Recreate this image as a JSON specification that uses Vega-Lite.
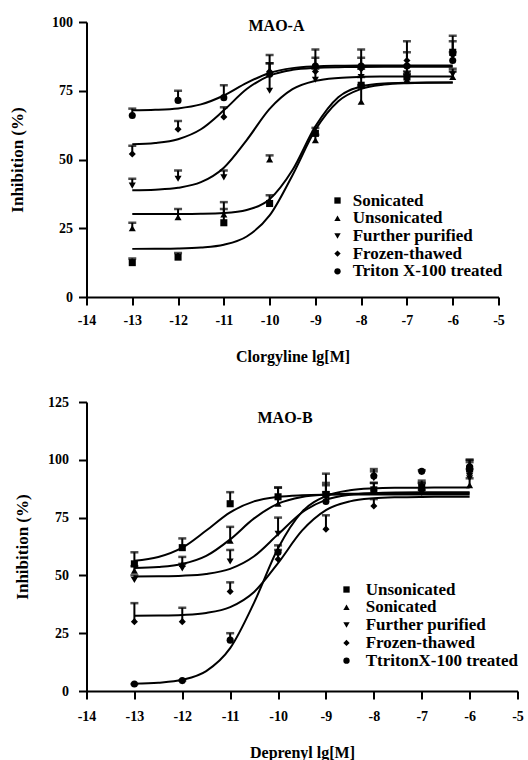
{
  "$schema": "https://vega.github.io/schema/vega-lite/v6.json",
  "background": "white",
  "padding": {"left": 8.5, "top": 15, "right": 5, "bottom": 5},
  "bounds": "flush",
  "spacing": 105,
  "config": {
    "view": {"stroke": null},
    "font": "Liberation Serif",
    "title": {"font": "Liberation Serif", "fontSize": 16, "fontWeight": "bold", "color": "black", "anchor": "start", "frame": "group"},
    "axis": {"domainColor": "black", "domainWidth": 2, "tickColor": "black", "tickWidth": 2, "tickSize": 8, "labelFont": "Liberation Serif", "labelFontWeight": "bold", "labelFontSize": 14, "labelColor": "black", "titleFont": "Liberation Serif", "titleFontWeight": "bold", "titleFontSize": 16, "titleColor": "black", "grid": false, "labelFlush": false}
  },
  "datasets": {
    "ptsA": [
      {"s": "Sonicated", "x": -13, "y": 12.5, "hi": 14}, {"s": "Sonicated", "x": -12, "y": 14.5, "hi": 16}, {"s": "Sonicated", "x": -11, "y": 27, "hi": 32}, {"s": "Sonicated", "x": -10, "y": 34, "hi": 37}, {"s": "Sonicated", "x": -9, "y": 59.5, "hi": 61.5}, {"s": "Sonicated", "x": -8, "y": 77, "hi": 80}, {"s": "Sonicated", "x": -7, "y": 80, "hi": 82}, {"s": "Sonicated", "x": -6, "y": 89, "hi": 95},
      {"s": "Unsonicated", "x": -13, "y": 25, "hi": 27}, {"s": "Unsonicated", "x": -12, "y": 29, "hi": 32}, {"s": "Unsonicated", "x": -11, "y": 30, "hi": 34.5}, {"s": "Unsonicated", "x": -10, "y": 50, "hi": 51.5}, {"s": "Unsonicated", "x": -9, "y": 57, "hi": 59}, {"s": "Unsonicated", "x": -8, "y": 71, "hi": 77}, {"s": "Unsonicated", "x": -7, "y": 79, "hi": 81}, {"s": "Unsonicated", "x": -6, "y": 80, "hi": 82},
      {"s": "Further purified", "x": -13, "y": 40.5, "hi": 43}, {"s": "Further purified", "x": -12, "y": 43, "hi": 46}, {"s": "Further purified", "x": -11, "y": 43.5, "hi": 46}, {"s": "Further purified", "x": -10, "y": 75, "hi": 85}, {"s": "Further purified", "x": -9, "y": 79, "hi": 83}, {"s": "Further purified", "x": -8, "y": 80, "hi": 83}, {"s": "Further purified", "x": -7, "y": 81, "hi": 84}, {"s": "Further purified", "x": -6, "y": 81, "hi": 83},
      {"s": "Frozen-thawed", "x": -13, "y": 52, "hi": 55}, {"s": "Frozen-thawed", "x": -12, "y": 61, "hi": 64}, {"s": "Frozen-thawed", "x": -11, "y": 65.5, "hi": 69}, {"s": "Frozen-thawed", "x": -10, "y": 82, "hi": 88}, {"s": "Frozen-thawed", "x": -9, "y": 82, "hi": 87}, {"s": "Frozen-thawed", "x": -8, "y": 83, "hi": 87}, {"s": "Frozen-thawed", "x": -7, "y": 86, "hi": 89}, {"s": "Frozen-thawed", "x": -6, "y": 88, "hi": 93},
      {"s": "Triton X-100 treated", "x": -13, "y": 66, "hi": 68.5}, {"s": "Triton X-100 treated", "x": -12, "y": 71.5, "hi": 75}, {"s": "Triton X-100 treated", "x": -11, "y": 72.5, "hi": 77}, {"s": "Triton X-100 treated", "x": -10, "y": 81, "hi": 85}, {"s": "Triton X-100 treated", "x": -9, "y": 84, "hi": 90}, {"s": "Triton X-100 treated", "x": -8, "y": 84, "hi": 90}, {"s": "Triton X-100 treated", "x": -7, "y": 84, "hi": 93}, {"s": "Triton X-100 treated", "x": -6, "y": 86, "hi": 89}
    ],
    "curA": [
      {"c": "S", "x": -13, "y": 17.5}, {"c": "S", "x": -12.5, "y": 17.55}, {"c": "S", "x": -12, "y": 17.65}, {"c": "S", "x": -11.5, "y": 18.0}, {"c": "S", "x": -11, "y": 19.0}, {"c": "S", "x": -10.5, "y": 22.0}, {"c": "S", "x": -10, "y": 29.65}, {"c": "S", "x": -9.5, "y": 44.3}, {"c": "S", "x": -9, "y": 60.8}, {"c": "S", "x": -8.5, "y": 71.2}, {"c": "S", "x": -8, "y": 75.7}, {"c": "S", "x": -7.5, "y": 77.25}, {"c": "S", "x": -7, "y": 77.76}, {"c": "S", "x": -6.5, "y": 77.92}, {"c": "S", "x": -6, "y": 77.97},
      {"c": "U", "x": -13, "y": 30.2}, {"c": "U", "x": -12.5, "y": 30.2}, {"c": "U", "x": -12, "y": 30.22}, {"c": "U", "x": -11.5, "y": 30.3}, {"c": "U", "x": -11, "y": 30.58}, {"c": "U", "x": -10.5, "y": 31.67}, {"c": "U", "x": -10, "y": 35.55}, {"c": "U", "x": -9.5, "y": 46.15}, {"c": "U", "x": -9, "y": 62.05}, {"c": "U", "x": -8.5, "y": 72.65}, {"c": "U", "x": -8, "y": 76.53}, {"c": "U", "x": -7.5, "y": 77.62}, {"c": "U", "x": -7, "y": 77.9}, {"c": "U", "x": -6.5, "y": 77.98}, {"c": "U", "x": -6, "y": 78.0},
      {"c": "F", "x": -13, "y": 38.8}, {"c": "F", "x": -12.5, "y": 39.03}, {"c": "F", "x": -12, "y": 39.72}, {"c": "F", "x": -11.5, "y": 41.75}, {"c": "F", "x": -11, "y": 47.03}, {"c": "F", "x": -10.5, "y": 57.07}, {"c": "F", "x": -10, "y": 68.38}, {"c": "F", "x": -9.5, "y": 75.56}, {"c": "F", "x": -9, "y": 78.61}, {"c": "F", "x": -8.5, "y": 79.68}, {"c": "F", "x": -8, "y": 80.04}, {"c": "F", "x": -7.5, "y": 80.15}, {"c": "F", "x": -7, "y": 80.19}, {"c": "F", "x": -6.5, "y": 80.2}, {"c": "F", "x": -6, "y": 80.2},
      {"c": "Z", "x": -13, "y": 55.52}, {"c": "Z", "x": -12.5, "y": 56.0}, {"c": "Z", "x": -12, "y": 57.39}, {"c": "Z", "x": -11.5, "y": 61.0}, {"c": "Z", "x": -11, "y": 67.87}, {"c": "Z", "x": -10.5, "y": 75.61}, {"c": "Z", "x": -10, "y": 80.52}, {"c": "Z", "x": -9.5, "y": 82.61}, {"c": "Z", "x": -9, "y": 83.35}, {"c": "Z", "x": -8.5, "y": 83.59}, {"c": "Z", "x": -8, "y": 83.66}, {"c": "Z", "x": -7.5, "y": 83.69}, {"c": "Z", "x": -7, "y": 83.7}, {"c": "Z", "x": -6.5, "y": 83.7}, {"c": "Z", "x": -6, "y": 83.7},
      {"c": "T", "x": -13, "y": 67.88}, {"c": "T", "x": -12.5, "y": 68.06}, {"c": "T", "x": -12, "y": 68.58}, {"c": "T", "x": -11.5, "y": 70.04}, {"c": "T", "x": -11, "y": 73.28}, {"c": "T", "x": -10.5, "y": 77.86}, {"c": "T", "x": -10, "y": 81.47}, {"c": "T", "x": -9.5, "y": 83.23}, {"c": "T", "x": -9, "y": 83.88}, {"c": "T", "x": -8.5, "y": 84.1}, {"c": "T", "x": -8, "y": 84.17}, {"c": "T", "x": -7.5, "y": 84.2}, {"c": "T", "x": -7, "y": 84.2}, {"c": "T", "x": -6.5, "y": 84.2}, {"c": "T", "x": -6, "y": 84.2}
    ],
    "ptsB": [
      {"s": "Unsonicated", "x": -13, "y": 55, "hi": 60}, {"s": "Unsonicated", "x": -12, "y": 62, "hi": 66}, {"s": "Unsonicated", "x": -11, "y": 81, "hi": 86}, {"s": "Unsonicated", "x": -10, "y": 84, "hi": 88}, {"s": "Unsonicated", "x": -9, "y": 85, "hi": 89}, {"s": "Unsonicated", "x": -8, "y": 87, "hi": 90}, {"s": "Unsonicated", "x": -7, "y": 88, "hi": 90}, {"s": "Unsonicated", "x": -6, "y": 96, "hi": 100},
      {"s": "Sonicated", "x": -13, "y": 52, "hi": 54}, {"s": "Sonicated", "x": -12, "y": 55, "hi": 58}, {"s": "Sonicated", "x": -11, "y": 65, "hi": 71}, {"s": "Sonicated", "x": -10, "y": 81, "hi": 88}, {"s": "Sonicated", "x": -9, "y": 86, "hi": 90}, {"s": "Sonicated", "x": -8, "y": 88, "hi": 90}, {"s": "Sonicated", "x": -7, "y": 89, "hi": 91}, {"s": "Sonicated", "x": -6, "y": 89, "hi": 92},
      {"s": "Further purified", "x": -13, "y": 48, "hi": 50}, {"s": "Further purified", "x": -12, "y": 53, "hi": 55}, {"s": "Further purified", "x": -11, "y": 56, "hi": 61}, {"s": "Further purified", "x": -10, "y": 68, "hi": 75}, {"s": "Further purified", "x": -9, "y": 84, "hi": 94}, {"s": "Further purified", "x": -8, "y": 92, "hi": 96}, {"s": "Further purified", "x": -7, "y": 88, "hi": 90}, {"s": "Further purified", "x": -6, "y": 92, "hi": 100},
      {"s": "Frozen-thawed", "x": -13, "y": 30, "hi": 38}, {"s": "Frozen-thawed", "x": -12, "y": 30, "hi": 36}, {"s": "Frozen-thawed", "x": -11, "y": 43, "hi": 47}, {"s": "Frozen-thawed", "x": -10, "y": 57, "hi": 61}, {"s": "Frozen-thawed", "x": -9, "y": 70, "hi": 76}, {"s": "Frozen-thawed", "x": -8, "y": 80, "hi": 83}, {"s": "Frozen-thawed", "x": -7, "y": 86, "hi": 87}, {"s": "Frozen-thawed", "x": -6, "y": 94, "hi": 96},
      {"s": "TtritonX-100 treated", "x": -13, "y": 3, "hi": 3}, {"s": "TtritonX-100 treated", "x": -12, "y": 4.5, "hi": 4.5}, {"s": "TtritonX-100 treated", "x": -11, "y": 22, "hi": 25}, {"s": "TtritonX-100 treated", "x": -10, "y": 60, "hi": 63}, {"s": "TtritonX-100 treated", "x": -9, "y": 82, "hi": 86}, {"s": "TtritonX-100 treated", "x": -8, "y": 93, "hi": 95}, {"s": "TtritonX-100 treated", "x": -7, "y": 95, "hi": 95.5}, {"s": "TtritonX-100 treated", "x": -6, "y": 97, "hi": 99}
    ],
    "curB": [
      {"c": "E", "x": -13, "y": 56.31}, {"c": "E", "x": -12.5, "y": 57.92}, {"c": "E", "x": -12, "y": 61.98}, {"c": "E", "x": -11.5, "y": 69.4}, {"c": "E", "x": -11, "y": 77.27}, {"c": "E", "x": -10.5, "y": 82.03}, {"c": "E", "x": -10, "y": 83.99}, {"c": "E", "x": -9.5, "y": 84.67}, {"c": "E", "x": -9, "y": 84.9}, {"c": "E", "x": -8.5, "y": 84.97}, {"c": "E", "x": -8, "y": 85}, {"c": "E", "x": -7.5, "y": 85}, {"c": "E", "x": -7, "y": 85}, {"c": "E", "x": -6.5, "y": 85}, {"c": "E", "x": -6, "y": 85},
      {"c": "D", "x": -13, "y": 53.2}, {"c": "D", "x": -12.5, "y": 53.64}, {"c": "D", "x": -12, "y": 54.93}, {"c": "D", "x": -11.5, "y": 58.41}, {"c": "D", "x": -11, "y": 65.57}, {"c": "D", "x": -10.5, "y": 74.65}, {"c": "D", "x": -10, "y": 81.06}, {"c": "D", "x": -9.5, "y": 83.95}, {"c": "D", "x": -9, "y": 84.99}, {"c": "D", "x": -8.5, "y": 85.34}, {"c": "D", "x": -8, "y": 85.45}, {"c": "D", "x": -7.5, "y": 85.48}, {"c": "D", "x": -7, "y": 85.5}, {"c": "D", "x": -6.5, "y": 85.5}, {"c": "D", "x": -6, "y": 85.5},
      {"c": "C", "x": -13, "y": 49.54}, {"c": "C", "x": -12.5, "y": 49.62}, {"c": "C", "x": -12, "y": 49.86}, {"c": "C", "x": -11.5, "y": 50.62}, {"c": "C", "x": -11, "y": 52.82}, {"c": "C", "x": -10.5, "y": 58.27}, {"c": "C", "x": -10, "y": 67.75}, {"c": "C", "x": -9.5, "y": 77.23}, {"c": "C", "x": -9, "y": 82.68}, {"c": "C", "x": -8.5, "y": 84.88}, {"c": "C", "x": -8, "y": 85.64}, {"c": "C", "x": -7.5, "y": 85.89}, {"c": "C", "x": -7, "y": 85.96}, {"c": "C", "x": -6.5, "y": 85.99}, {"c": "C", "x": -6, "y": 86},
      {"c": "B", "x": -13, "y": 32.54}, {"c": "B", "x": -12.5, "y": 32.63}, {"c": "B", "x": -12, "y": 32.91}, {"c": "B", "x": -11.5, "y": 33.76}, {"c": "B", "x": -11, "y": 36.29}, {"c": "B", "x": -10.5, "y": 42.84}, {"c": "B", "x": -10, "y": 55.3}, {"c": "B", "x": -9.5, "y": 69.34}, {"c": "B", "x": -9, "y": 78.24}, {"c": "B", "x": -8.5, "y": 82.03}, {"c": "B", "x": -8, "y": 83.36}, {"c": "B", "x": -7.5, "y": 83.8}, {"c": "B", "x": -7, "y": 83.94}, {"c": "B", "x": -6.5, "y": 83.98}, {"c": "B", "x": -6, "y": 84},
      {"c": "A", "x": -13, "y": 3.19}, {"c": "A", "x": -12.5, "y": 3.6}, {"c": "A", "x": -12, "y": 4.86}, {"c": "A", "x": -11.5, "y": 8.63}, {"c": "A", "x": -11, "y": 18.54}, {"c": "A", "x": -10.5, "y": 38.23}, {"c": "A", "x": -10, "y": 61.74}, {"c": "A", "x": -9.5, "y": 77.5}, {"c": "A", "x": -9, "y": 84.36}, {"c": "A", "x": -8.5, "y": 86.82}, {"c": "A", "x": -8, "y": 87.62}, {"c": "A", "x": -7.5, "y": 87.88}, {"c": "A", "x": -7, "y": 87.96}, {"c": "A", "x": -6.5, "y": 87.99}, {"c": "A", "x": -6, "y": 88}
    ]
  },
  "vconcat": [
    {
      "width": 412,
      "height": 275,
      "title": {"text": "MAO-A", "dx": 162, "offset": -10, "dy": 9},
      "encoding": {
        "x": {"field": "x", "type": "quantitative", "scale": {"domain": [-14, -5], "nice": false}, "axis": {"title": "Clorgyline lg[M]", "values": [-14, -13, -12, -11, -10, -9, -8, -7, -6, -5], "labelExpr": "'' + datum.value", "labelPadding": 8, "titlePadding": 21}},
        "y": {"field": "y", "type": "quantitative", "scale": {"domain": [0, 100], "nice": false}, "axis": {"title": "Inhibition (%)", "values": [0, 25, 50, 75, 100], "labelPadding": 6, "titlePadding": 25, "titleFontSize": 17}}
      },
      "layer": [
        {"data": {"name": "curA"}, "mark": {"type": "line", "color": "black", "strokeWidth": 2, "interpolate": "monotone"}, "encoding": {"detail": {"field": "c"}, "order": {"field": "x", "type": "quantitative"}}},
        {"data": {"name": "ptsA"}, "mark": {"type": "rule", "color": "black", "strokeWidth": 2}, "encoding": {"y2": {"field": "hi"}}},
        {"data": {"name": "ptsA"}, "mark": {"type": "tick", "orient": "horizontal", "color": "black", "thickness": 2.5, "size": 8}, "encoding": {"y": {"field": "hi", "type": "quantitative"}}},
        {"data": {"name": "ptsA"}, "mark": {"type": "point", "filled": true, "color": "black", "size": 50, "opacity": 1}, "encoding": {"shape": {"field": "s", "type": "nominal", "scale": {"domain": ["Sonicated", "Unsonicated", "Further purified", "Frozen-thawed", "Triton X-100 treated"], "range": ["square", "triangle-up", "triangle-down", "diamond", "circle"]}, "legend": {"title": null, "orient": "none", "legendX": 242.5, "legendY": 170, "padding": 0, "labelFont": "Liberation Serif", "labelFontWeight": "bold", "labelFontSize": 17, "labelColor": "black", "symbolFillColor": "black", "symbolStrokeColor": "black", "symbolStrokeWidth": 0, "symbolSize": 40, "rowPadding": -0.3, "labelOffset": 6.7}}}}
      ]
    },
    {
      "width": 431,
      "height": 289,
      "title": {"text": "MAO-B", "dx": 171, "offset": -23.5, "dy": 7},
      "encoding": {
        "x": {"field": "x", "type": "quantitative", "scale": {"domain": [-14, -5], "nice": false}, "axis": {"title": "Deprenyl lg[M]", "values": [-14, -13, -12, -11, -10, -9, -8, -7, -6, -5], "labelExpr": "'' + datum.value", "labelPadding": 10, "titlePadding": 21}},
        "y": {"field": "y", "type": "quantitative", "scale": {"domain": [0, 125], "nice": false}, "axis": {"title": "Inhibition (%)", "values": [0, 25, 50, 75, 100, 125], "labelPadding": 10, "titlePadding": 16, "titleFontSize": 17}}
      },
      "layer": [
        {"data": {"name": "curB"}, "mark": {"type": "line", "color": "black", "strokeWidth": 2, "interpolate": "monotone"}, "encoding": {"detail": {"field": "c"}, "order": {"field": "x", "type": "quantitative"}}},
        {"data": {"name": "ptsB"}, "mark": {"type": "rule", "color": "black", "strokeWidth": 2}, "encoding": {"y2": {"field": "hi"}}},
        {"data": {"name": "ptsB"}, "mark": {"type": "tick", "orient": "horizontal", "color": "black", "thickness": 2.5, "size": 8}, "encoding": {"y": {"field": "hi", "type": "quantitative"}}},
        {"data": {"name": "ptsB"}, "mark": {"type": "point", "filled": true, "color": "black", "size": 50, "opacity": 1}, "encoding": {"shape": {"field": "s", "type": "nominal", "scale": {"domain": ["Unsonicated", "Sonicated", "Further purified", "Frozen-thawed", "TtritonX-100 treated"], "range": ["square", "triangle-up", "triangle-down", "diamond", "circle"]}, "legend": {"title": null, "orient": "none", "legendX": 251.5, "legendY": 179, "padding": 0, "labelFont": "Liberation Serif", "labelFontWeight": "bold", "labelFontSize": 17, "labelColor": "black", "symbolFillColor": "black", "symbolStrokeColor": "black", "symbolStrokeWidth": 0, "symbolSize": 40, "rowPadding": -0.2, "labelOffset": 10.7}}}}
      ]
    }
  ],
  "resolve": {"scale": {"x": "independent", "y": "independent", "shape": "independent"}, "legend": {"shape": "independent"}}
}
